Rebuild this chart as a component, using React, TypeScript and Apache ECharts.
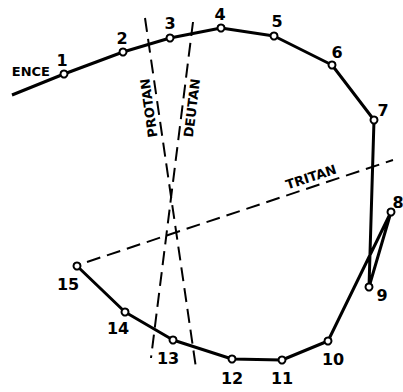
import { useEffect, useRef } from 'react';
import * as echarts from 'echarts';

// Farnsworth D-15 arrangement plot: caps positioned on the hue circle,
// joined in the order the observer placed them.
const capIds = [1, 2, 3, 4, 5, 6, 7, 8, 9, 10, 11, 12, 13, 14, 15];
const capX = [64, 123, 170, 221, 274, 332, 374, 391, 369, 328, 282, 232, 173, 125, 77];
const capY = [74, 52, 38, 28, 36, 65, 120, 212, 287, 341, 360, 359, 340, 312, 266];
const capOrder = [1, 2, 3, 4, 5, 6, 7, 9, 8, 10, 11, 12, 13, 14, 15];
const referenceCap = [12, 95];
const referenceText = 'ENCE';
const referenceTextAnchor = [50, 71];

// Confusion axes
const protanAxis = [[145, 18], [196, 368]];
const deutanAxis = [[193, 22], [151, 358]];
const tritanAxis = [[87, 262], [393, 160]];
const axisNames = ['PROTAN', 'DEUTAN', 'TRITAN'];
const axisLabelAnchors = [[149, 108], [192, 108], [311, 177]];
const axisLabelAngles = [98, 83, 18];

// Number label offsets (px) from each cap, indexed by cap id - 1
const capLabelOffsets = [
  [-2, -14], [-1, -14], [0, -15], [-1, -14], [3, -15], [5, -13], [9, -10], [7, -10],
  [13, 8], [5, 18], [0, 18], [0, 19], [-5, 18], [-7, 16], [-9, 18],
];

const FONT = 'DejaVu Sans';

const textStyle = {
  fontWeight: 'bold',
  fontFamily: FONT,
  color: '#000',
  opacity: 1,
  textBorderWidth: 0,
  textBorderColor: 'transparent',
};

export default function App() {
  const ref = useRef<HTMLDivElement>(null);

  useEffect(() => {
    if (!ref.current) return;
    const chart = echarts.init(ref.current, undefined, { renderer: 'svg' });

    const pathData: any[] = [
      { value: referenceCap, symbol: 'none', label: { show: false } },
      ...capOrder.map((id) => ({
        value: [capX[id - 1], capY[id - 1]],
        name: String(capIds[id - 1]),
        label: { offset: capLabelOffsets[id - 1] },
      })),
    ];

    const dashed = (data: number[][]) => ({
      type: 'line',
      data,
      symbol: 'none',
      silent: true,
      z: 1,
      lineStyle: { color: '#000', width: 2, type: [14, 7] },
    });

    chart.setOption({
      animation: false,
      backgroundColor: '#fff',
      grid: { left: 0, right: 0, top: 0, bottom: 0 },
      xAxis: { type: 'value', min: 0, max: 403, show: false },
      yAxis: { type: 'value', min: 0, max: 392, inverse: true, show: false },
      series: [
        dashed(protanAxis),
        dashed(deutanAxis),
        dashed(tritanAxis),
        {
          type: 'scatter',
          symbolSize: 0,
          silent: true,
          z: 2,
          itemStyle: { color: '#000', opacity: 1 },
          data: [
            ...axisNames.map((name, i) => ({
              name,
              value: axisLabelAnchors[i],
              label: { rotate: axisLabelAngles[i] },
            })),
            {
              name: referenceText,
              value: referenceTextAnchor,
              label: { align: 'right' },
            },
          ],
          label: {
            show: true,
            position: 'inside',
            formatter: '{b}',
            align: 'center',
            verticalAlign: 'middle',
            fontSize: 13,
            ...textStyle,
          },
        },
        {
          type: 'line',
          data: pathData,
          z: 3,
          symbol: 'emptyCircle',
          symbolSize: 7,
          itemStyle: { color: '#000', borderWidth: 2 },
          lineStyle: { color: '#000', width: 3 },
          label: {
            show: true,
            position: 'inside',
            formatter: '{b}',
            align: 'center',
            verticalAlign: 'middle',
            fontSize: 16,
            ...textStyle,
          },
        },
      ],
    });

    return () => chart.dispose();
  }, []);

  return (
    <div
      ref={ref}
      style={{ position: 'fixed', left: 0, top: 0, width: 403, height: 392, background: '#fff' }}
    />
  );
}
